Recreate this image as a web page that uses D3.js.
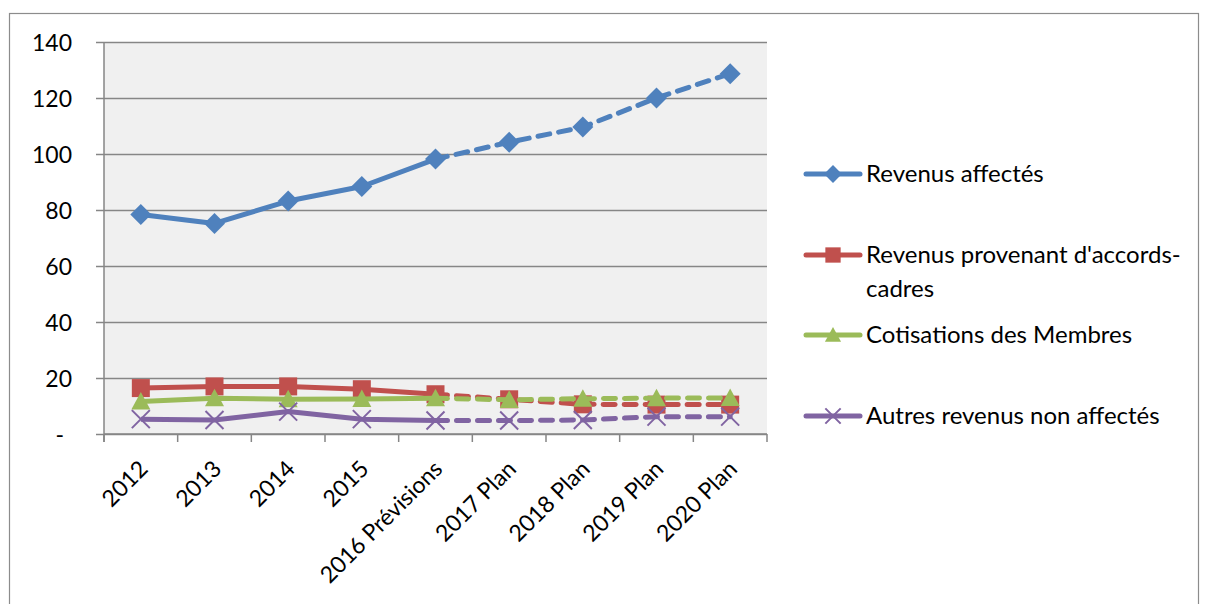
<!DOCTYPE html>
<html>
<head>
<meta charset="utf-8">
<script src="https://cdn.jsdelivr.net/npm/d3@7"></script>
<style>
  body { margin: 0; background: #fff; }
  svg text { font-family: Lato, "Open Sans", sans-serif; fill: #000; }
</style>
</head>
<body>
<div id="chart"></div>
<script>
// categories along the x axis
var categories = ["2012", "2013", "2014", "2015", "2016 Prévisions", "2017 Plan", "2018 Plan", "2019 Plan", "2020 Plan"];

// series values
var revenusAffectes = [78.4, 75.2, 83.2, 88.4, 98.2, 104.2, 109.6, 120.0, 128.7];
var revenusAccords = [16.4, 17.0, 17.0, 16.0, 14.2, 12.4, 10.6, 10.5, 10.5];
var cotisations = [11.6, 12.8, 12.4, 12.5, 12.8, 12.2, 12.6, 12.8, 12.9];
var autresRevenus = [5.3, 5.0, 8.0, 5.3, 4.8, 4.8, 5.0, 6.2, 6.2];

var seriesNames = ["Revenus affectés", "Revenus provenant d'accords-cadres", "Cotisations des Membres", "Autres revenus non affectés"];
var seriesColors = ["#4F81BD", "#C0504D", "#9BBB59", "#8064A2"];
var seriesMarkers = ["diamond", "square", "triangle", "cross"];

var yTicks = [0, 20, 40, 60, 80, 100, 120, 140];

// index of the last actual (non forecast) point, after which lines are dashed
var lastSolid = 4;

var series = [revenusAffectes, revenusAccords, cotisations, autresRevenus].map(function(vals, i){
  return { name: seriesNames[i], color: seriesColors[i], marker: seriesMarkers[i], values: vals };
});

var W = 1205, H = 604;
var plot = { left: 104, top: 42, right: 767, bottom: 434 };

var svg = d3.select("#chart").append("svg")
  .attr("width", W)
  .attr("height", H);

// outer frame
svg.append("rect")
  .attr("x", 9.5).attr("y", 13.5)
  .attr("width", 1189).attr("height", 620)
  .attr("fill", "#fff")
  .attr("stroke", "#8c8c8c")
  .attr("stroke-width", 1.2);

var x = d3.scalePoint()
  .domain(categories)
  .range([plot.left, plot.right])
  .padding(0.5);

var y = d3.scaleLinear()
  .domain([0, 140])
  .range([plot.bottom, plot.top]);

// plot background
svg.append("rect")
  .attr("x", plot.left).attr("y", plot.top)
  .attr("width", plot.right - plot.left)
  .attr("height", plot.bottom - plot.top)
  .attr("fill", "#F0F0F0");

// gridlines + y axis
var yAxis = d3.axisLeft(y)
  .tickValues(yTicks)
  .tickSize(-(plot.right - plot.left))
  .tickFormat(function(d){ return d === 0 ? "-" : d; });

var gy = svg.append("g")
  .attr("transform", "translate(" + plot.left + ",0)")
  .call(yAxis);
gy.select(".domain").remove();
gy.selectAll(".tick line")
  .attr("x1", -8)
  .attr("stroke", "#868686")
  .attr("stroke-width", 1.5);
gy.selectAll(".tick text")
  .attr("x", -32)
  .attr("dy", "0.35em")
  .style("font-size", "23px");
gy.selectAll(".tick").filter(function(d){ return d === 0; }).select("text")
  .attr("x", -40);

// vertical axis line
svg.append("line")
  .attr("x1", plot.left).attr("x2", plot.left)
  .attr("y1", plot.top).attr("y2", plot.bottom + 8)
  .attr("stroke", "#868686")
  .attr("stroke-width", 1.5);

// x axis: ticks sit between categories
var step = x.step();
var xAxisG = svg.append("g");
xAxisG.append("line")
  .attr("x1", plot.left).attr("x2", plot.right)
  .attr("y1", plot.bottom).attr("y2", plot.bottom)
  .attr("stroke", "#868686")
  .attr("stroke-width", 1.5);
xAxisG.selectAll("line.tk")
  .data(d3.range(categories.length + 1))
  .enter().append("line")
  .attr("class", "tk")
  .attr("x1", function(i){ return plot.left + i * step; })
  .attr("x2", function(i){ return plot.left + i * step; })
  .attr("y1", plot.bottom)
  .attr("y2", plot.bottom + 8)
  .attr("stroke", "#868686")
  .attr("stroke-width", 1.5);

xAxisG.selectAll("text.cat")
  .data(categories)
  .enter().append("text")
  .attr("class", "cat")
  .attr("text-anchor", "end")
  .attr("transform", function(d){ return "translate(" + (x(d) - 3) + "," + (plot.bottom + 25) + ")rotate(-45)"; })
  .attr("dy", "0.7em")
  .style("font-size", "23px")
  .text(function(d){ return d; });

var line = d3.line()
  .x(function(d){ return x(d.cat); })
  .y(function(d){ return y(d.v); });

function markerPath(type, size) {
  var s = size / 2;
  if (type === "diamond") return "M0," + (-s) + "L" + s + ",0L0," + s + "L" + (-s) + ",0Z";
  if (type === "square") return "M" + (-s) + "," + (-s) + "h" + size + "v" + size + "h" + (-size) + "Z";
  if (type === "triangle") return "M0," + (-s) + "L" + s + "," + (s * 0.85) + "L" + (-s) + "," + (s * 0.85) + "Z";
  return "M" + (-s) + "," + (-s) + "L" + s + "," + s + "M" + s + "," + (-s) + "L" + (-s) + "," + s;
}

function drawMarker(g, type, color, size) {
  var p = g.append("path").attr("d", markerPath(type, size));
  if (type === "cross") {
    p.attr("fill", "none").attr("stroke", color).attr("stroke-width", 2);
  } else {
    p.attr("fill", color).attr("stroke", "none");
  }
}

var markerSize = { diamond: 21, square: 18, triangle: 19, cross: 18 };

var linesG = svg.append("g");
series.forEach(function(s){
  var pts = s.values.map(function(v, i){ return { cat: categories[i], v: v }; });
  linesG.append("path")
    .datum(pts.slice(0, lastSolid + 1))
    .attr("fill", "none")
    .attr("stroke", s.color)
    .attr("stroke-width", 5)
    .attr("stroke-linejoin", "round")
    .attr("d", line);
  linesG.append("path")
    .datum(pts.slice(lastSolid))
    .attr("fill", "none")
    .attr("stroke", s.color)
    .attr("stroke-width", 5)
    .attr("stroke-dasharray", "12,9")
    .attr("stroke-linecap", "round")
    .attr("d", line);
  pts.forEach(function(p){
    var g = linesG.append("g").attr("transform", "translate(" + x(p.cat) + "," + y(p.v) + ")");
    drawMarker(g, s.marker, s.color, markerSize[s.marker]);
  });
});

// legend
var legendRows = [
  { lines: ["Revenus affectés"], y: 174 },
  { lines: ["Revenus provenant d'accords-", "cadres"], y: 255 },
  { lines: ["Cotisations des Membres"], y: 335 },
  { lines: ["Autres revenus non affectés"], y: 416 }
];
var legend = svg.append("g");
series.forEach(function(s, i){
  var r = legendRows[i];
  var g = legend.append("g").attr("transform", "translate(0," + r.y + ")");
  g.append("line")
    .attr("x1", 806).attr("x2", 860)
    .attr("y1", 0).attr("y2", 0)
    .attr("stroke", s.color)
    .attr("stroke-width", 5)
    .attr("stroke-linecap", "round");
  var mg = g.append("g").attr("transform", "translate(833,0)");
  drawMarker(mg, s.marker, s.color, markerSize[s.marker] * 0.85);
  r.lines.forEach(function(t, k){
    g.append("text")
      .attr("x", 866)
      .attr("y", k * 34)
      .attr("dy", "0.35em")
      .style("font-size", "24px")
      .text(t);
  });
});
</script>
</body>
</html>
